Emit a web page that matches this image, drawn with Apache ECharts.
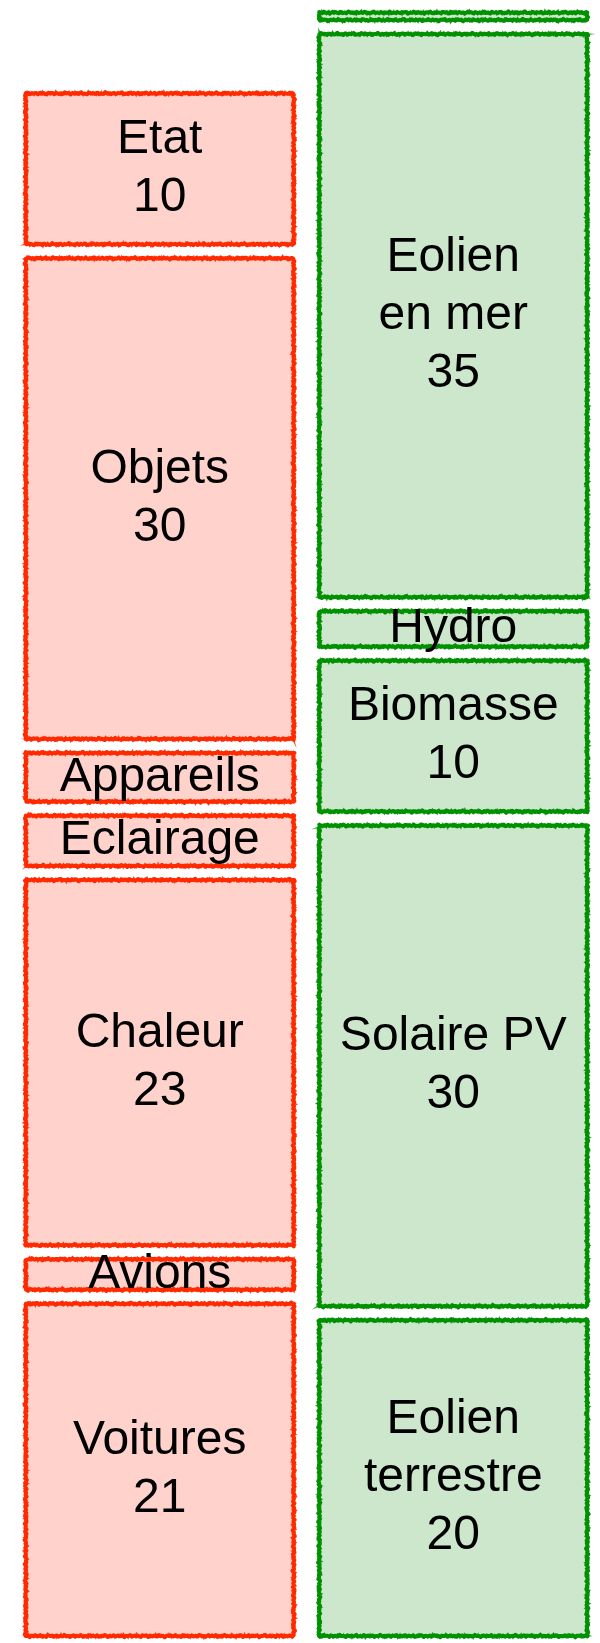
<!DOCTYPE html>
<html>
<head>
<meta charset="utf-8">
<style>
  html, body { margin: 0; padding: 0; background: #ffffff; }
  #chart { width: 600px; height: 1643px; }
</style>
<script src="https://cdn.jsdelivr.net/npm/echarts@6/dist/echarts.min.js"></script>
</head>
<body>
<div id="chart"></div>
<script>
// Two stacked columns: energy consumption (left) and production (right), listed bottom to top
const columns = ['Consommation', 'Production'];

const consoNames  = ['Voitures', 'Avions', 'Chaleur', 'Eclairage', 'Appareils', 'Objets', 'Etat'];
const consoValues = [21, 2.7, 23, 3.9, 3.8, 30, 10];

const prodNames  = ['Eolien\nterrestre', 'Solaire PV', 'Biomasse', 'Hydro', 'Eolien\nen mer', 'Marées'];
const prodValues = [20, 30, 10, 3, 35, 1.3];

const palette = [
  { fill: '#ffd2cb', stroke: '#ff2a00' },
  { fill: '#cce7cc', stroke: '#009100' }
];

// Build [column, start, end] segments for each stack
function stackSegments(col, names, values) {
  const out = [];
  let acc = 0;
  values.forEach((v, i) => {
    out.push({ value: [col, acc, acc + v], name: names[i], amount: v });
    acc += v;
  });
  return out;
}

const segments = [
  ...stackSegments(0, consoNames, consoValues),
  ...stackSegments(1, prodNames, prodValues)
];

const INSET = 7;
const FONT_SIZE = 48;
const LINE_H = 58;

// Hand-drawn looking outline: a rectangle traced with a small jagged offset
function wobblyOutline(x, y, w, h, phase, amp, step) {
  const pts = [];
  let t = 0;
  function wob(k) {
    return amp * (Math.sin(k * 2.3 + phase) * 0.5 +
                  Math.sin(k * 5.1 + phase * 2.1) * 0.3 +
                  Math.sin(k * 0.7 + phase * 0.6) * 0.2);
  }
  for (let d = 0; d <= w; d += step, t++) pts.push([x + d, y + wob(t)]);
  for (let d = 0; d <= h; d += step, t++) pts.push([x + w + wob(t), y + d]);
  for (let d = w; d >= 0; d -= step, t++) pts.push([x + d, y + h + wob(t)]);
  for (let d = h; d >= 0; d -= step, t++) pts.push([x + wob(t), y + d]);
  return pts;
}

function renderItem(params, api) {
  const seg = segments[params.dataIndex];
  const col = api.value(0);
  const lo = api.value(1);
  const hi = api.value(2);
  const pLo = api.coord([col, lo]);
  const pHi = api.coord([col, hi]);
  const band = api.size([1, 0])[0];
  const w = band * 0.913;
  const x = pLo[0] - w / 2;
  const y = pHi[1] + INSET;
  const h = Math.max(1, (pLo[1] - INSET) - y);
  const c = palette[col];
  const phase = params.dataIndex * 1.37;

  const children = [
    { type: 'rect', shape: { x: x, y: y, width: w, height: h }, style: { fill: c.fill } },
    {
      type: 'polygon',
      shape: { points: wobblyOutline(x, y, w, h, phase, 1.3, 1.5) },
      style: { fill: null, stroke: c.stroke, lineWidth: 4, lineJoin: 'round' }
    },
    {
      type: 'polygon',
      shape: { points: wobblyOutline(x, y, w, h, phase + 2.2, 2.4, 1.2) },
      style: { fill: null, stroke: c.stroke, lineWidth: 1.8, opacity: 0.85 }
    }
  ];

  const nameLines = seg.name.split('\n').length;
  let text = null;
  if (h >= (nameLines + 1) * LINE_H * 0.9) {
    text = seg.name + '\n' + seg.amount;
  } else if (h >= 20) {
    text = seg.name;
  }
  if (text) {
    children.push({
      type: 'text',
      style: {
        text: text,
        x: x + w / 2,
        y: y + h / 2,
        align: 'center',
        verticalAlign: 'middle',
        fill: '#000000',
        fontSize: FONT_SIZE,
        fontFamily: '"Liberation Sans", Arial, Helvetica, sans-serif',
        lineHeight: LINE_H
      }
    });
  }
  return { type: 'group', children: children };
}

const chart = echarts.init(document.getElementById('chart'), null, { renderer: 'canvas' });
chart.setOption({
  animation: false,
  backgroundColor: '#ffffff',
  grid: { left: 13, right: 0, top: 0, height: 1649 },
  xAxis: { type: 'category', data: columns, show: false },
  yAxis: { type: 'value', min: 0, max: 99.64, show: false },
  series: [{
    type: 'custom',
    renderItem: renderItem,
    encode: { x: 0, y: [1, 2] },
    clip: false,
    data: segments.map(s => s.value)
  }]
});
</script>
</body>
</html>
